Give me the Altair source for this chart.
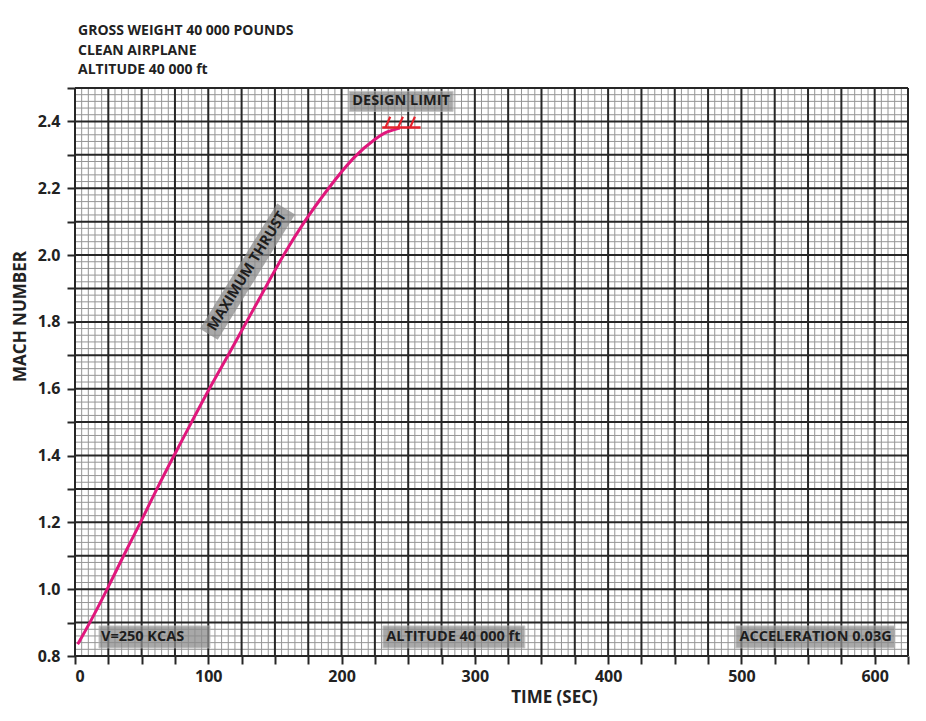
import altair as alt
import pandas as pd

# ---- data ----
time_sec = [2, 11.3, 24.3, 36.3, 49.3, 61.3, 74.3, 87.5, 100.6, 115, 128.7, 142.5,
            156.3, 171.8, 190, 210, 226, 234, 243.7]
mach = [0.835, 0.9, 1.0, 1.1, 1.2, 1.3, 1.4, 1.5, 1.6, 1.7, 1.8, 1.9,
        2.0, 2.1, 2.2, 2.3, 2.35, 2.37, 2.38]

x_ticks = list(range(0, 626, 25))
x_minor = [v for v in range(0, 626, 5) if v % 25]
y_ticks = [round(0.8 + 0.1 * i, 2) for i in range(18)]
y_minor = [round(0.8 + 0.02 * i, 2) for i in range(86) if i % 5]

title_lines = ["GROSS WEIGHT 40 000 POUNDS", "CLEAN AIRPLANE", "ALTITUDE 40 000 ft"]

box_labels = ["V=250 KCAS", "ALTITUDE 40 000 ft", "ACCELERATION 0.03G", "DESIGN LIMIT"]
box_x = [18, 231, 495.8, 205.7]
box_x2 = [101.3, 337.5, 615, 283.7]
box_y = [0.824, 0.824, 0.824, 2.430]
box_y2 = [0.890, 0.890, 0.890, 2.490]
label_x = [19.5, 233.5, 498.5, 244.7]
label_y = [0.857, 0.857, 0.857, 2.460]
label_align = ["left", "left", "left", "center"]

thrust_x = [100.4, 158.4]
thrust_y = [1.763, 2.138]
thrust_text_x = [129.4]
thrust_text_y = [1.951]

limit_x = [230.5, 259.3]
limit_y = [2.382, 2.382]
hash_x = [233, 242.5, 251.5]
hash_x2 = [236.5, 246, 255]
hash_y = [2.382, 2.382, 2.382]
hash_y2 = [2.414, 2.414, 2.414]

FONT = "Open Sans"
XS = alt.Scale(domain=[0, 625], nice=False, zero=False)
YS = alt.Scale(domain=[0.8, 2.5], nice=False, zero=False)

X_AX = alt.Axis(
    values=x_ticks, title="TIME (SEC)", grid=False, domain=False,
    labelExpr="datum.value % 100 == 0 ? datum.label : ''",
    tickSize=8, tickWidth=2, tickColor="#262626", labelPadding=4,
    labelFontSize=16, labelFontWeight="bold", labelFont=FONT, labelColor="#222",
    titleFontSize=17, titleFontWeight="bold", titleFont=FONT, titleColor="#222",
    titleX=479, titleY=41, titleAlign="center", titleBaseline="middle")
Y_AX = alt.Axis(
    values=y_ticks, title="MACH NUMBER", grid=False, domain=False,
    labelExpr="abs(round(datum.value * 10) % 2) == 0 ? format(datum.value, '.1f') : ''",
    tickSize=8, tickWidth=2, tickColor="#262626", labelPadding=7,
    labelFontSize=16, labelFontWeight="bold", labelFont=FONT, labelColor="#222",
    titleFontSize=17, titleFontWeight="bold", titleFont=FONT, titleColor="#222",
    titleAngle=270, titleX=-55, titleY=228, titleAlign="center",
    titleBaseline="middle")


def X(f):
    return alt.X(f, scale=XS, axis=X_AX)


def Y(f):
    return alt.Y(f, scale=YS, axis=Y_AX)


curve_df = pd.DataFrame({"t": time_sec, "m": mach})

minor_v = alt.Chart(pd.DataFrame({"x": x_minor})).mark_rule(
    color="#959595", strokeWidth=1).encode(x=X("x:Q"))
minor_h = alt.Chart(pd.DataFrame({"y": y_minor})).mark_rule(
    color="#959595", strokeWidth=1).encode(y=Y("y:Q"))
major_v = alt.Chart(pd.DataFrame({"x": x_ticks})).mark_rule(
    color="#262626", strokeWidth=2).encode(x=X("x:Q"))
major_h = alt.Chart(pd.DataFrame({"y": y_ticks})).mark_rule(
    color="#262626", strokeWidth=2).encode(y=Y("y:Q"))

boxes_df = pd.DataFrame({"x": box_x, "x2": box_x2, "y": box_y, "y2": box_y2,
                         "lx": label_x, "ly": label_y, "label": box_labels,
                         "al": label_align})
boxes = alt.Chart(boxes_df).mark_rect(
    fill="#8c8c8c", opacity=0.75, stroke="#b5b5b5", strokeWidth=1).encode(
    x=X("x:Q"), x2="x2:Q", y=Y("y:Q"), y2="y2:Q")
box_text_left = alt.Chart(boxes_df[boxes_df.al == "left"]).mark_text(
    align="left", baseline="middle", font=FONT, fontSize=14.5, fontWeight="bold",
    color="#1e1e1e").encode(x=X("lx:Q"), y=Y("ly:Q"), text="label:N")
box_text_center = alt.Chart(boxes_df[boxes_df.al == "center"]).mark_text(
    align="center", baseline="middle", font=FONT, fontSize=14.5, fontWeight="bold",
    color="#1e1e1e").encode(x=X("lx:Q"), y=Y("ly:Q"), text="label:N")

thrust_box = alt.Chart(pd.DataFrame({"x": [thrust_x[0]], "x2": [thrust_x[1]],
                                     "y": [thrust_y[0]], "y2": [thrust_y[1]]})).mark_rule(
    color="#8c8c8c", opacity=0.75, strokeWidth=21, strokeCap="butt").encode(
    x=X("x:Q"), x2="x2:Q", y=Y("y:Q"), y2="y2:Q")
thrust_text = alt.Chart(pd.DataFrame({"x": thrust_text_x, "y": thrust_text_y,
                                      "label": ["MAXIMUM THRUST"]})).mark_text(
    align="center", baseline="middle", angle=301.7, font=FONT, fontSize=14.5,
    fontWeight="bold", color="#1e1e1e").encode(x=X("x:Q"), y=Y("y:Q"), text="label:N")

curve = alt.Chart(curve_df).mark_line(
    color="#e0177c", strokeWidth=3, interpolate="basis").encode(
    x=X("t:Q"), y=Y("m:Q"))

limit_line = alt.Chart(pd.DataFrame({"x": [limit_x[0]], "x2": [limit_x[1]],
                                     "y": [limit_y[0]]})).mark_rule(
    color="#e5222c", strokeWidth=2.5).encode(x=X("x:Q"), x2="x2:Q", y=Y("y:Q"))
limit_hash = alt.Chart(pd.DataFrame({"x": hash_x, "x2": hash_x2, "y": hash_y,
                                     "y2": hash_y2})).mark_rule(
    color="#e5222c", strokeWidth=2.2).encode(
    x=X("x:Q"), x2="x2:Q", y=Y("y:Q"), y2="y2:Q")

chart = alt.layer(
    minor_v, minor_h, major_v, major_h, boxes, thrust_box, curve,
    limit_line, limit_hash, box_text_left, box_text_center, thrust_text
).properties(
    width=833, height=568,
    autosize="none",
    padding={"left": 67, "top": 80, "right": 10, "bottom": 57},
    title=alt.TitleParams(text=title_lines, anchor="start", frame="group",
                          font=FONT, fontSize=14, fontWeight="bold", color="#222",
                          lineHeight=19.5, offset=10, dx=3)
).configure_view(
    fill="#f4f4f4", stroke=None
).configure(background="white")

chart.save("out.html", embed_options={"renderer": "svg", "actions": False})
